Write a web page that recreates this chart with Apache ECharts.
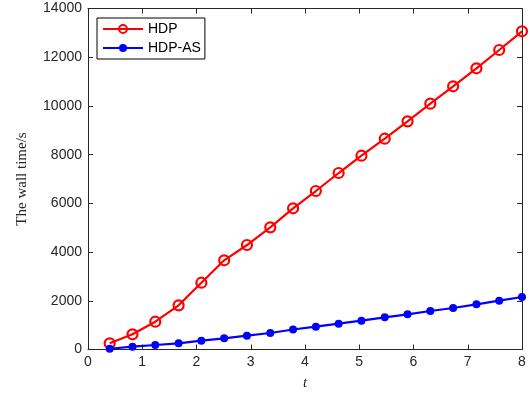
<!DOCTYPE html>
<html><head><meta charset="utf-8">
<script src="https://cdn.jsdelivr.net/npm/echarts@6/dist/echarts.min.js"></script>
<style>html,body{margin:0;padding:0;background:#fff}#c{width:530px;height:400px}</style>
</head><body><div id="c"></div>
<script>
const tValues = [0.40, 0.82, 1.24, 1.67, 2.09, 2.51, 2.93, 3.36, 3.78, 4.20, 4.62, 5.04, 5.47, 5.89, 6.31, 6.73, 7.16, 7.58, 8.00];
const hdp = [255, 624, 1141, 1814, 2743, 3662, 4290, 5016, 5797, 6507, 7246, 7957, 8655, 9368, 10092, 10806, 11545, 12296, 13064];
const hdpAs = [30, 115, 185, 255, 361, 460, 567, 677, 820, 936, 1059, 1182, 1322, 1445, 1581, 1704, 1856, 2004, 2155];
const seriesNames = ['HDP', 'HDP-AS'];
const xLabel = 't';
const yLabel = 'The wall time/s';

const pair = (xs, ys) => xs.map((x, i) => [x, ys[i]]);
const axisCol = '#262626';
const chart = echarts.init(document.getElementById('c'));
const baseAxisLine = {show: true, onZero: false, lineStyle: {color: axisCol, width: 1}};
chart.setOption({
  animation: false,
  backgroundColor: '#fff',
  grid: {left: 88, right: 8, top: 8.5, bottom: 50.5},
  legend: {
    left: 97, top: 18, orient: 'vertical',
    data: seriesNames,
    borderColor: '#000', borderWidth: 1, padding: [4, 4, 4, 5],
    itemWidth: 40, itemHeight: 10, itemGap: 5,
    textStyle: {fontFamily: 'Liberation Sans', fontSize: 14, color: '#000'}
  },
  xAxis: [{
    type: 'value', min: 0, max: 8, interval: 1,
    name: xLabel, nameLocation: 'middle', nameGap: 26,
    nameTextStyle: {fontFamily: 'Liberation Serif', fontStyle: 'italic', fontSize: 15, color: axisCol},
    axisLine: baseAxisLine,
    axisTick: {inside: true, length: 5, lineStyle: {color: axisCol}},
    axisLabel: {fontFamily: 'Liberation Sans', fontSize: 14, color: axisCol, margin: 6},
    splitLine: {show: false}
  }, {
    type: 'value', min: 0, max: 8, interval: 1, position: 'top',
    axisLine: baseAxisLine,
    axisTick: {inside: true, length: 5, lineStyle: {color: axisCol}},
    axisLabel: {show: false}, splitLine: {show: false}
  }],
  yAxis: [{
    type: 'value', min: 0, max: 14000, interval: 2000,
    name: yLabel, nameLocation: 'middle', nameGap: 58,
    nameTextStyle: {fontFamily: 'Liberation Serif', fontSize: 15, color: axisCol},
    axisLine: baseAxisLine,
    axisTick: {inside: true, length: 5, lineStyle: {color: axisCol}},
    axisLabel: {fontFamily: 'Liberation Sans', fontSize: 14, color: axisCol, margin: 6, formatter: v => String(v)},
    splitLine: {show: false}
  }, {
    type: 'value', min: 0, max: 14000, interval: 2000, position: 'right',
    axisLine: baseAxisLine,
    axisTick: {inside: true, length: 5, lineStyle: {color: axisCol}},
    axisLabel: {show: false}, splitLine: {show: false}
  }],
  series: [{
    name: seriesNames[0], type: 'line', data: pair(tValues, hdp),
    symbol: 'circle', symbolSize: 10,
    lineStyle: {color: '#ff0000', width: 2.2},
    itemStyle: {color: 'rgba(0,0,0,0)', borderColor: '#ff0000', borderWidth: 2.2},
    z: 2
  }, {
    name: seriesNames[1], type: 'line', data: pair(tValues, hdpAs),
    symbol: 'circle', symbolSize: 8,
    lineStyle: {color: '#0000ff', width: 2.2},
    itemStyle: {color: '#0000ff'},
    z: 3
  }]
});
</script></body></html>
